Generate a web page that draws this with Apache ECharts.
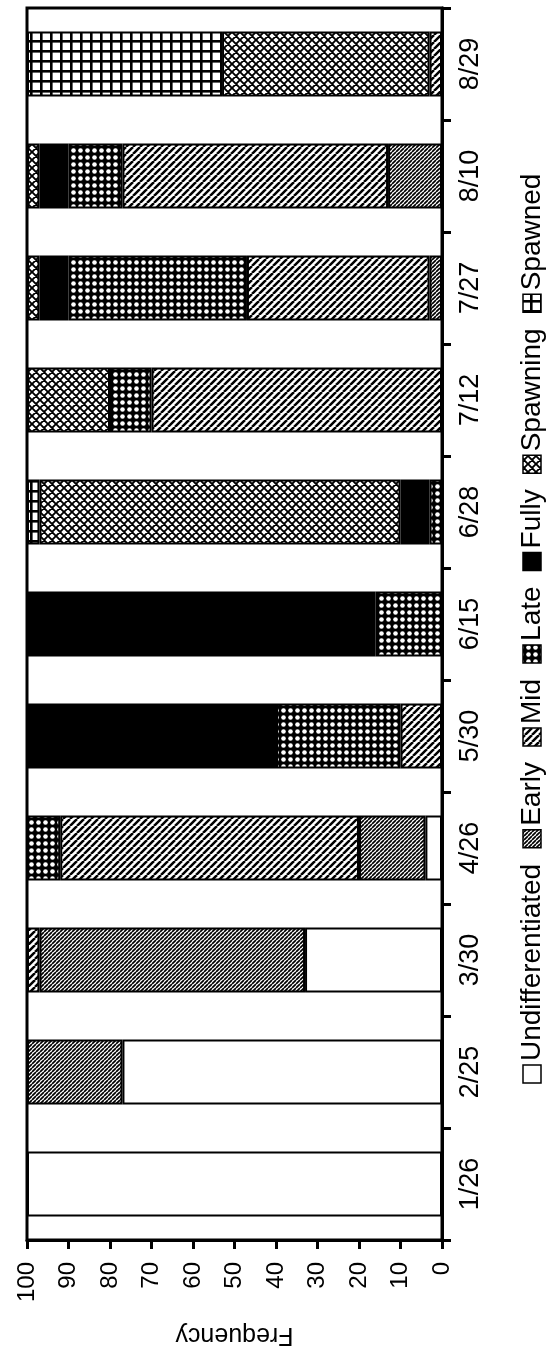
<!DOCTYPE html>
<html>
<head>
<meta charset="utf-8">
<script src="https://cdn.jsdelivr.net/npm/echarts@6/dist/echarts.min.js"></script>
<style>
  html, body { margin: 0; padding: 0; background: #fff; }
  #chart { width: 553px; height: 1352px; }
</style>
</head>
<body>
<div id="chart"></div>
<script>
// Sampling dates (bottom to top) and maturity-stage frequencies (%)
const categories = ['1/26', '2/25', '3/30', '4/26', '5/30', '6/15', '6/28', '7/12', '7/27', '8/10', '8/29'];
const stages = ['Undifferentiated', 'Early', 'Mid', 'Late', 'Fully', 'Spawning', 'Spawned'];
const undifferentiated = [100, 77, 33, 4, 0, 0, 0, 0, 0, 0, 0];
const early            = [0, 23, 64, 16, 0, 0, 0, 0, 3, 13, 0];
const mid              = [0, 0, 3, 72, 10, 0, 0, 70, 44, 64, 3];
const late             = [0, 0, 0, 8, 30, 16, 3, 10, 43, 13, 0];
const fully            = [0, 0, 0, 0, 60, 84, 7, 0, 7, 7, 0];
const spawning         = [0, 0, 0, 0, 0, 0, 87, 20, 3, 3, 50];
const spawned          = [0, 0, 0, 0, 0, 0, 3, 0, 0, 0, 47];
const stageValues = [undifferentiated, early, mid, late, fully, spawning, spawned];

const FONT = '"Liberation Sans", Arial, Helvetica, sans-serif';

// Tile-based fills for the black-and-white stage patterns
function tile(size, draw) {
  const c = document.createElement('canvas');
  c.width = size; c.height = size;
  const g = c.getContext('2d');
  g.fillStyle = '#fff';
  g.fillRect(0, 0, size, size);
  g.fillStyle = '#000';
  g.strokeStyle = '#000';
  draw(g, size);
  return { image: c, repeat: 'repeat' };
}
function diagonal(size, width) {
  return tile(size, (g, s) => {
    g.lineWidth = width;
    g.beginPath();
    for (let k = -1; k <= 2; k++) {
      g.moveTo(k * s, s); g.lineTo(k * s + s, 0);
    }
    g.stroke();
  });
}
const fills = [
  '#ffffff',
  diagonal(4, 1.7),
  diagonal(7, 2.5),
  tile(7, (g, s) => {
    g.fillRect(0, 0, s, s);
    g.fillStyle = '#fff';
    g.beginPath(); g.arc(s / 2, s / 2, 2.3, 0, Math.PI * 2); g.fill();
  }),
  '#000000',
  tile(8, (g, s) => {
    g.lineWidth = 1.9;
    g.beginPath();
    for (let k = -1; k <= 2; k++) {
      g.moveTo(k * s, s); g.lineTo(k * s + s, 0);
      g.moveTo(k * s, 0); g.lineTo(k * s + s, s);
    }
    g.stroke();
  }),
  tile(10, (g, s) => {
    g.fillRect(0, 0, s, 2.6);
    g.fillRect(0, 0, 2.6, s);
  })
];

const series = stages.map((name, i) => ({
  name: name,
  type: 'bar',
  stack: 'stage',
  barCategoryGap: '42%',
  itemStyle: { color: fills[i], borderColor: '#000', borderWidth: 2 },
  data: stageValues[i].map(v => (v === 0 ? '-' : v))
}));

// Legend drawn as a vertical column reading bottom-to-top
const legendFontSize = 28;
const measure = document.createElement('canvas').getContext('2d');
measure.font = legendFontSize + 'px ' + FONT;
const legendGraphics = [];
let cursor = 1083;
const iconSize = 18;
stages.forEach((name, i) => {
  legendGraphics.push({
    type: 'rect',
    shape: { x: 523, y: cursor - iconSize, width: iconSize, height: iconSize },
    style: { fill: fills[i], stroke: '#000', lineWidth: 1.5 }
  });
  cursor -= iconSize + 4;
  legendGraphics.push({
    type: 'text',
    x: 532,
    y: cursor,
    rotation: Math.PI / 2,
    style: {
      text: name,
      font: legendFontSize + 'px ' + FONT,
      fill: '#000',
      align: 'left',
      verticalAlign: 'middle'
    }
  });
  cursor -= measure.measureText(name).width + 16;
});

const chart = echarts.init(document.getElementById('chart'));
chart.setOption({
  animation: false,
  backgroundColor: '#fff',
  textStyle: { fontFamily: FONT, color: '#000' },
  grid: {
    left: 27, right: 111, top: 8, bottom: 104,
    show: true, borderColor: '#000', borderWidth: 3, backgroundColor: 'transparent'
  },
  xAxis: {
    type: 'value',
    inverse: true,
    min: 0, max: 100, interval: 10,
    position: 'bottom',
    name: 'Frequency',
    nameLocation: 'middle',
    nameRotate: 180,
    nameGap: 82,
    nameTextStyle: { fontSize: 25, color: '#000', fontFamily: FONT },
    axisLine: { show: true, lineStyle: { color: '#000', width: 3 } },
    axisTick: { show: true, length: 9, lineStyle: { color: '#000', width: 3 } },
    axisLabel: { rotate: 90, margin: 22, fontSize: 24, color: '#000', fontFamily: FONT },
    splitLine: { show: false }
  },
  yAxis: {
    type: 'category',
    data: categories,
    position: 'right',
    axisLine: { show: true, lineStyle: { color: '#000', width: 3 } },
    axisTick: { show: true, length: 9, lineStyle: { color: '#000', width: 3 } },
    axisLabel: { rotate: 90, margin: 15, fontSize: 27, color: '#000', fontFamily: FONT, interval: 0 },
    splitLine: { show: false }
  },
  series: series,
  graphic: legendGraphics
});
</script>
</body>
</html>
